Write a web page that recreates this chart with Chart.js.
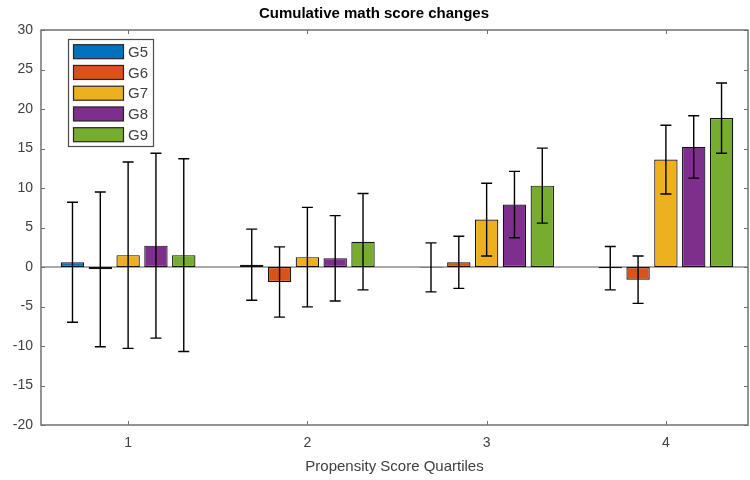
<!DOCTYPE html>
<html>
<head>
<meta charset="utf-8">
<title>Cumulative math score changes</title>
<script src="https://cdn.jsdelivr.net/npm/chart.js@4/dist/chart.umd.min.js"></script>
<style>
    html, body { margin: 0; padding: 0; background: #fff; }
    #wrap { width: 750px; height: 480px; }
</style>
</head>
<body>
<div id="wrap"><canvas id="chart" width="750" height="480"></canvas></div>
<script>
// Chart data
const quartiles = [1, 2, 3, 4];
const grades = ['G5', 'G6', 'G7', 'G8', 'G9'];
const colors = ['#0072BD', '#D95319', '#EDB120', '#7E2F8E', '#77AC30'];

// mean change per quartile
const g5 = [0.6, 0.3, -0.05, -0.15];
const g6 = [-0.3, -1.9, 0.6, -1.6];
const g7 = [1.5, 1.25, 6.0, 13.6];
const g8 = [2.7, 1.1, 7.9, 15.2];
const g9 = [1.5, 3.2, 10.3, 18.85];

// error bar half-widths
const g5Err = [7.6, 4.5, 3.1, 2.75];
const g6Err = [9.8, 4.45, 3.3, 3.0];
const g7Err = [11.8, 6.3, 4.6, 4.35];
const g8Err = [11.7, 5.4, 4.2, 3.95];
const g9Err = [12.2, 6.1, 4.75, 4.45];

const yTicks = [30, 25, 20, 15, 10, 5, 0, -5, -10, -15, -20];

const means = [g5, g6, g7, g8, g9];
const errs = [g5Err, g6Err, g7Err, g8Err, g9Err];

const axisColor = '#707070';
const textColor = '#404040';
const fontFamily = '"Liberation Sans", Arial, Helvetica, sans-serif';

/**
 * Box, inward ticks and zero line, drawn like a MATLAB axes
 */
const axesBox = {
    id: 'axesBox',
    beforeDatasetsDraw(chart) {
        const { ctx, chartArea: a, scales } = chart;
        ctx.save();
        // baseline at zero
        const y0 = scales.y.getPixelForValue(0);
        ctx.strokeStyle = '#8c8c8c';
        ctx.lineWidth = 1.5;
        ctx.beginPath();
        ctx.moveTo(a.left, y0);
        ctx.lineTo(a.right, y0);
        ctx.stroke();
        ctx.restore();
    },
    afterDraw(chart) {
        const { ctx, chartArea: a, scales } = chart;
        ctx.save();
        ctx.strokeStyle = axisColor;
        ctx.lineWidth = 1.5;
        ctx.strokeRect(a.left, a.top, a.right - a.left, a.bottom - a.top);
        const len = 4;
        ctx.lineWidth = 1;
        ctx.beginPath();
        yTicks.forEach(v => {
            const y = Math.round(scales.y.getPixelForValue(v)) + 0.5;
            ctx.moveTo(a.left, y);
            ctx.lineTo(a.left + len, y);
            ctx.moveTo(a.right, y);
            ctx.lineTo(a.right - len, y);
        });
        quartiles.forEach(v => {
            const x = Math.round(scales.x.getPixelForValue(v)) + 0.5;
            ctx.moveTo(x, a.bottom);
            ctx.lineTo(x, a.bottom - len);
            ctx.moveTo(x, a.top);
            ctx.lineTo(x, a.top + len);
        });
        ctx.stroke();
        ctx.restore();
    }
};

/**
 * Error bars from the mean and half-width arrays
 */
const errorBars = {
    id: 'errorBars',
    afterDatasetsDraw(chart) {
        const { ctx, scales } = chart;
        ctx.save();
        ctx.strokeStyle = '#000';
        ctx.lineWidth = 1.4;
        chart.data.datasets.forEach((ds, di) => {
            const meta = chart.getDatasetMeta(di);
            meta.data.forEach((bar, i) => {
                const m = means[di][i];
                const e = errs[di][i];
                const x = bar.x;
                const yTop = scales.y.getPixelForValue(m + e);
                const yBot = scales.y.getPixelForValue(m - e);
                const cap = 5.5;
                ctx.beginPath();
                ctx.moveTo(x, yTop);
                ctx.lineTo(x, yBot);
                ctx.moveTo(x - cap, yTop);
                ctx.lineTo(x + cap, yTop);
                ctx.moveTo(x - cap, yBot);
                ctx.lineTo(x + cap, yBot);
                ctx.stroke();
            });
        });
        ctx.restore();
    }
};

/**
 * Legend box in the upper left corner of the plot
 */
const boxLegend = {
    id: 'boxLegend',
    afterDraw(chart) {
        const { ctx } = chart;
        const left = 68, top = 39, width = 85, height = 107;
        ctx.save();
        ctx.fillStyle = '#fff';
        ctx.fillRect(left, top, width, height);
        ctx.strokeStyle = '#4d4d4d';
        ctx.lineWidth = 1.2;
        ctx.strokeRect(left + 0.5, top + 0.5, width, height);
        ctx.font = '15px ' + fontFamily;
        ctx.textBaseline = 'middle';
        chart.data.datasets.forEach((ds, i) => {
            const cy = 51.7 + i * 20.75;
            ctx.fillStyle = ds.backgroundColor;
            ctx.fillRect(73.5, cy - 7, 50, 14);
            ctx.strokeStyle = '#262626';
            ctx.strokeRect(73.5, cy - 7, 50, 14);
            ctx.fillStyle = textColor;
            ctx.fillText(ds.label, 128, cy + 1);
        });
        ctx.restore();
    }
};

const datasets = grades.map((g, i) => ({
    label: g,
    data: quartiles.map((q, j) => ({ x: q, y: means[i][j] })),
    backgroundColor: colors[i],
    borderColor: '#111',
    borderWidth: 1.2,
    borderSkipped: false,
    categoryPercentage: 0.776,
    barPercentage: 0.84
}));

new Chart(document.getElementById('chart'), {
    type: 'bar',
    data: { datasets: datasets },
    options: {
        responsive: false,
        animation: false,
        layout: { padding: { left: 0, right: 2, top: 0, bottom: 0 } },
        plugins: {
            legend: { display: false },
            tooltip: { enabled: false },
            title: {
                display: true,
                text: 'Cumulative math score changes',
                color: '#000',
                font: { family: fontFamily, size: 15, weight: 'bold' },
                padding: { top: 5, bottom: 7 }
            }
        },
        scales: {
            x: {
                type: 'linear',
                min: 0.514,
                max: 4.458,
                offset: false,
                grid: { display: false, drawTicks: false },
                border: { display: false },
                afterBuildTicks: scale => {
                    scale.ticks = quartiles.map(v => ({ value: v }));
                },
                afterFit: scale => { scale.height = 55; },
                ticks: {
                    color: textColor,
                    padding: 10,
                    font: { family: fontFamily, size: 14 },
                    maxRotation: 0
                },
                title: {
                    display: true,
                    text: 'Propensity Score Quartiles',
                    color: textColor,
                    font: { family: fontFamily, size: 15 },
                    padding: { top: 0, bottom: 4 }
                }
            },
            y: {
                min: -20,
                max: 30,
                grid: { display: false, drawTicks: false },
                border: { display: false },
                afterBuildTicks: scale => {
                    scale.ticks = yTicks.map(v => ({ value: v }));
                },
                afterFit: scale => { scale.width = 41; },
                ticks: {
                    color: textColor,
                    padding: 8,
                    font: { family: fontFamily, size: 14 }
                }
            }
        }
    },
    plugins: [axesBox, errorBars, boxLegend]
});
</script>
</body>
</html>
